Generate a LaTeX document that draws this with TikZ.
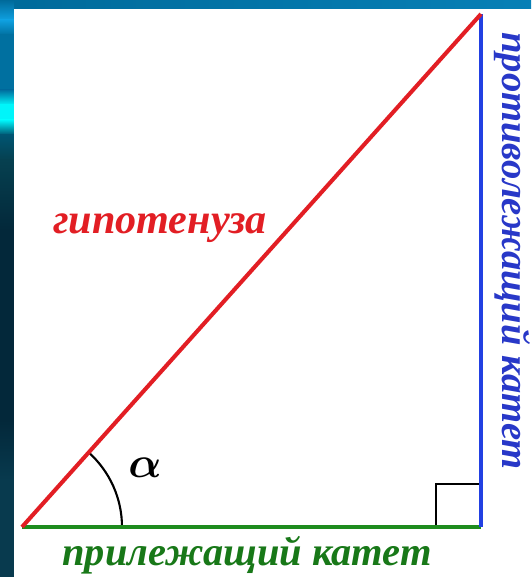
\documentclass[tikz,border=0pt]{standalone}
\usepackage{amsmath}
\usepackage{fontspec}
\setmainfont{Liberation Serif}
\usepackage{tikz}
\usetikzlibrary{positioning}
\definecolor{TrRed}{RGB}{226,30,36}
\definecolor{TrGreen}{RGB}{30,140,30}
\definecolor{TrGreenText}{RGB}{24,120,24}
\definecolor{TrBlue}{RGB}{34,64,226}
\definecolor{TrBlueText}{RGB}{40,56,200}
\definecolor{BgTeal}{RGB}{0,106,154}
\definecolor{BgLight}{RGB}{15,160,224}
\definecolor{BgMid}{RGB}{0,112,160}
\definecolor{BgCyan}{RGB}{0,245,250}
\definecolor{BgDeep}{RGB}{0,85,114}
\definecolor{BgDark}{RGB}{6,64,80}
\definecolor{BgNight}{RGB}{3,40,58}
\definecolor{BgBottom}{RGB}{8,58,78}

\begin{document}
\begin{tikzpicture}[x=0.02cm, y=0.02cm,
      side/.style={line width=2.3pt},
      anglemark/.style={draw=black, line width=1.2pt},
      lbl/.style={font=\bfseries\itshape, inner sep=0pt}
    ]
    \useasboundingbox (0,0) rectangle (531,577);

    % backdrop
    \fill[BgTeal] (0,0) rectangle (531,577);
    \shade[left color=BgTeal, right color=BgTeal!60!BgLight] (0,568) rectangle (531,577);
    \foreach \ya/\yb/\ca/\cb in {577/557/BgTeal/BgLight, 557/542/BgLight/BgMid,
        542/487/BgMid/BgMid, 487/472/BgMid/BgCyan, 472/457/BgCyan/BgCyan,
        457/442/BgCyan/BgDeep, 442/417/BgDeep/BgDark, 417/347/BgDark/BgNight,
        347/157/BgNight/BgNight, 157/97/BgNight/BgBottom, 97/0/BgBottom/BgBottom}{
      \shade[top color=\ca, bottom color=\cb] (0,\yb) rectangle (14,\ya);
    }
    \fill[white] (14,0) rectangle (531,568);

    \coordinate (A) at (22,50);
    \coordinate (C) at (481,50);
    \coordinate (B) at (481,563);

    % right angle and angle mark
    \draw[anglemark] (436,50) -- (436,93) -- (481,93);
    \draw[anglemark] (A) ++(0:100) arc (0:48.2:100);

    \draw[side, TrGreen] (A) -- (C);
    \draw[side, TrBlue]  (C) -- (B);
    \draw[side, TrRed]   (A) -- (B);

    \node[lbl, font=\fontsize{24}{24}\selectfont\bfseries\itshape, text=TrRed]
          (hyp) at (160,349) {гипотенуза};
    \node[lbl, font=\fontsize{24}{24}\selectfont\bfseries\itshape]
          (alpha) at (145,109) {$\boldsymbol{\alpha}$};
    \node[lbl, font=\fontsize{23}{23}\selectfont\bfseries\itshape, text=TrGreenText]
          (adj) at (247,22) {прилежащий катет};
    \node[lbl, font=\fontsize{22}{22}\selectfont\bfseries\itshape, text=TrBlueText, rotate=-90]
          (opp) at (512,326) {противолежащий катет};
  \end{tikzpicture}
\end{document}
